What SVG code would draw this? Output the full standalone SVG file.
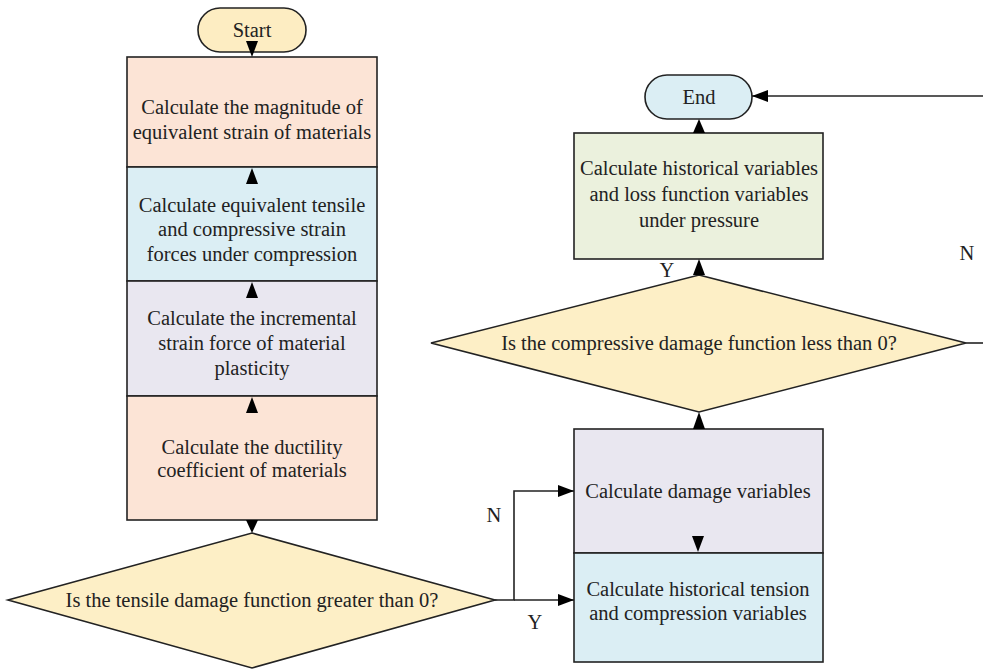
<svg xmlns="http://www.w3.org/2000/svg" width="983" height="670" viewBox="0 0 983 670">
<style>
.s{stroke:#222;stroke-width:1.6}
.line{fill:none;stroke:#222;stroke-width:1.6}
.ah{fill:#000}
</style>
<defs>
<marker id="arr" viewBox="0 0 16 12" refX="16" refY="6" markerWidth="16" markerHeight="12" markerUnits="userSpaceOnUse" orient="auto">
<path d="M0,0 L16,6 L0,12 Z" fill="#000"/>
</marker>
</defs>
<rect width="983" height="670" fill="#fff"/>
<g font-family="Liberation Serif" font-size="20.5" fill="#222" text-anchor="middle">
<g id="start">
<rect class="s" x="198" y="8" width="108" height="44" rx="22" fill="#fdedc2"/>
<text x="252" y="37">Start</text>
</g>
<g id="box1">
<rect class="s" x="127" y="57" width="250" height="110" fill="#fce4d6"/>
<text x="252" y="114">Calculate the magnitude of</text>
<text x="252" y="139">equivalent strain of materials</text>
</g>
<g id="box2">
<rect class="s" x="127" y="167" width="250" height="114" fill="#dbeef4"/>
<text x="252" y="212">Calculate equivalent tensile</text>
<text x="252" y="236">and compressive strain</text>
<text x="252" y="261">forces under compression</text>
</g>
<g id="box3">
<rect class="s" x="127" y="281" width="250" height="115" fill="#e9e7f0"/>
<text x="252" y="325">Calculate the incremental</text>
<text x="252" y="350">strain force of material</text>
<text x="252" y="375">plasticity</text>
</g>
<g id="box4">
<rect class="s" x="127" y="396" width="250" height="124" fill="#fce4d6"/>
<text x="252" y="454">Calculate the ductility</text>
<text x="252" y="477">coefficient of materials</text>
</g>
<g id="decision1">
<polygon class="s" points="252,533 495,600 252,668 8,600" fill="#fdefc6"/>
<text x="252" y="607">Is the tensile damage function greater than 0?</text>
</g>
<g id="damage">
<rect class="s" x="574" y="429" width="249" height="124" fill="#e9e7f0"/>
<text x="698" y="498">Calculate damage variables</text>
</g>
<g id="historical">
<rect class="s" x="574" y="553" width="249" height="109" fill="#dbeef4"/>
<text x="698" y="596">Calculate historical tension</text>
<text x="698" y="620">and compression variables</text>
</g>
<g id="decision2">
<polygon class="s" points="699,275 966,343 699,412 431,343" fill="#fdefc6"/>
<text x="699" y="350">Is the compressive damage function less than 0?</text>
</g>
<g id="green">
<rect class="s" x="574" y="133" width="249" height="126" fill="#ebf1dd"/>
<text x="699" y="175">Calculate historical variables</text>
<text x="699" y="201">and loss function variables</text>
<text x="699" y="227">under pressure</text>
</g>
<g id="end">
<rect class="s" x="645" y="75" width="107" height="44" rx="22" fill="#dbeef4"/>
<text x="699" y="104">End</text>
</g>

<g id="connectors">
<polygon class="ah" points="246,41 258,41 252,57"/>
<polygon class="ah" points="252,168 246,184 258,184"/>
<polygon class="ah" points="252,282 246,298 258,298"/>
<polygon class="ah" points="252,397 246,413 258,413"/>
<polygon class="ah" points="246,520 258,520 252,533"/>
<polyline class="line" points="495,600 514,600 514,491 574,491" marker-end="url(#arr)"/>
<line class="line" x1="514" y1="600" x2="574" y2="600" marker-end="url(#arr)"/>
<polygon class="ah" points="692,536 704,536 698,552"/>
<polygon class="ah" points="699,412 693,429 705,429"/>
<polygon class="ah" points="699,259 693,275 705,275"/>
<polygon class="ah" points="699,119 693,133 705,133"/>
<line class="line" x1="966" y1="343" x2="983" y2="343"/>
<line class="line" x1="983" y1="96" x2="752" y2="96" marker-end="url(#arr)"/>
<text x="494" y="522">N</text>
<text x="535" y="629">Y</text>
<text x="667" y="277">Y</text>
<text x="967" y="260">N</text>
</g>
</g>
</svg>
